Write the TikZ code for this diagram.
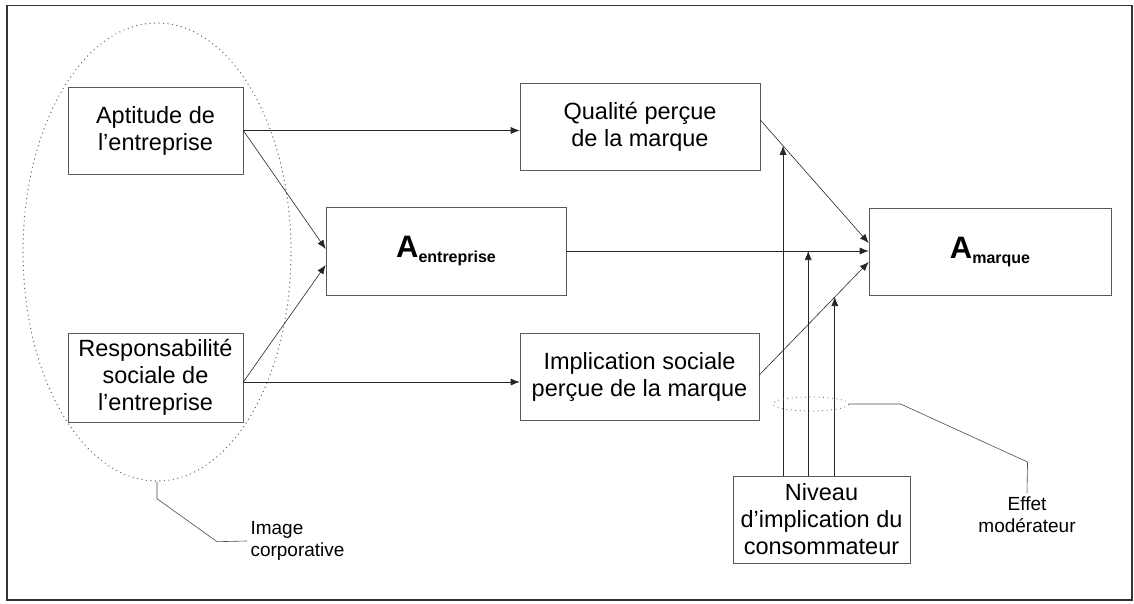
\documentclass[tikz,border=0pt]{standalone}
\usepackage{fontspec}
\setmainfont{Liberation Sans}
\usetikzlibrary{arrows.meta,shapes.geometric}

\newcommand{\attitude}[1]{{\fontsize{31}{33}\selectfont\bfseries A}\raisebox{-5pt}{\fontsize{16}{17}\selectfont\bfseries #1}}

\begin{document}
\begin{tikzpicture}[x=1pt, y=-1pt,
    bloc/.style={draw=black!65, fill=white, line width=0.6pt, inner sep=0pt, align=center,
      font=\fontsize{23.5}{27}\selectfont},
    fleche/.style={-{Latex[length=9pt,width=7pt]}, draw=black!85, line width=0.6pt},
    pointille/.style={draw=black!60, line width=1.4pt, dash pattern=on 0pt off 4.5pt, line cap=round},
    renvoi/.style={draw=black!70, line width=0.6pt},
    note/.style={font=\fontsize{19}{22}\selectfont}]
  \useasboundingbox (0,0) rectangle (1134,604);
  \draw[black!80, line width=1.8pt] (7,5.5) rectangle (1132,600);
  % image corporative
  \node[ellipse, pointille, minimum width=268pt, minimum height=458pt] (img) at (157,252){};
  \node[note, anchor=west, align=left] (corp) at (247,541) {Image\\corporative};
  \draw[renvoi] (img.south) -- ++(0,17) -- ++(60,43) -- (corp.west);
  % boites
  \node[bloc, minimum width=175pt, minimum height=87pt] (apt) at (155.5,130.5) {Aptitude de\\l’entreprise};
  \node[bloc, minimum width=175pt, minimum height=89pt] (resp) at (155.5,377.5) {Responsabilité\\sociale de\\l’entreprise};
  \node[bloc, minimum width=240pt, minimum height=88pt] (aent) at (446,251) {\attitude{entreprise}};
  \node[bloc, minimum width=240pt, minimum height=87pt] (qual) at (640,126.5) {Qualité perçue\\de la marque};
  \node[bloc, minimum width=239pt, minimum height=87pt] (impl) at (639.5,376.5) {Implication sociale\\perçue de la marque};
  \node[bloc, minimum width=242pt, minimum height=87pt] (amar) at (990,251.5) {\attitude{marque}};
  \node[bloc, minimum width=177pt, minimum height=87pt] (niv) at (821.5,519.5) {Niveau\\d’implication du\\consommateur};
  % liens
  \draw[fleche] (apt.east) -- (apt.east -| qual.west);
  \draw[fleche] (apt.east) -- ([yshift=2pt]aent.west);
  \draw[fleche] ([yshift=-4.5pt]resp.east) -- ([yshift=-14pt]aent.west);
  \draw[fleche] ([yshift=-4.5pt]resp.east) -- ([yshift=-4.5pt]resp.east -| impl.west);
  \draw[fleche] ([yshift=6.5pt]qual.east) -- coordinate[pos=0.21] (m1) ([yshift=8.5pt]amar.west);
  \draw[fleche] (aent.east) -- coordinate[pos=0.8] (m2) (aent.east -| amar.west);
  \draw[fleche] ([yshift=1.5pt]impl.east) -- coordinate[pos=0.69] (m3) ([yshift=-10.5pt]amar.west);
  % effet moderateur
  \draw[fleche] (m1 |- niv.north) -- (m1);
  \draw[fleche] (m2 |- niv.north) -- (m2);
  \draw[fleche] (m3 |- niv.north) -- (m3);
  \node[ellipse, pointille, line width=1.1pt, minimum width=76pt, minimum height=14pt] (mod) at (811,404){};
  \node[note, anchor=north, align=center] (eff) at (1027,493) {Effet\\modérateur};
  \draw[renvoi] (mod.east) -- ++(51,0) -- ++(127,58) -- (eff.north);
\end{tikzpicture}
\end{document}
